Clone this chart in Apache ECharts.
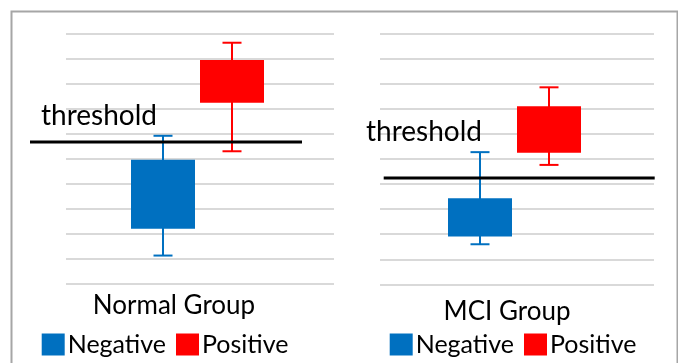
<!DOCTYPE html>
<html>
<head>
<meta charset="utf-8">
<script src="https://cdn.jsdelivr.net/npm/echarts@6/dist/echarts.min.js"></script>
<style>
html,body{margin:0;padding:0;background:#fff;}
#chart{width:678px;height:363px;}
</style>
</head>
<body>
<div id="chart"></div>
<script>
// ---- data ----
const groups = ['Normal Group', 'MCI Group'];
const legendNames = ['Negative', 'Positive'];
const negLow  = [1.12, 1.60];
const negQ1   = [2.19, 1.91];
const negQ3   = [4.96, 3.44];
const negHigh = [5.92, 5.28];
const posLow  = [5.30, 4.77];
const posQ1   = [7.24, 5.26];
const posQ3   = [8.96, 7.11];
const posHigh = [9.65, 7.87];
const thresholds = [5.67, 4.25];
const thresholdLabel = 'threshold';
const yMin = 0, yMax = 10, yStep = 1;

// ---- styling / layout ----
const FONT = 'Lato';
const BLUE = '#0070c0', RED = '#ff0000';
const boxW = 64, capW = 19, boxGap = 5, clusterShift = -2.5;
const negOffset = clusterShift - (boxGap + boxW) / 2;
const posOffset = clusterShift + (boxGap + boxW) / 2;
const gridsLayout = [
  {left: 66, right: 344, top: 34, bottom: 79.5},
  {left: 380, right: 24, top: 34, bottom: 78.7}
];
// threshold line extension relative to grid edges [leftExt, rightExt]
const thrExt = [[-36, -32], [3.7, 0.7]];
const labelPad = [[0, 52, 0, 0], [0, 20, 0, 0]];
const labelMargin = [9, 14];

function boxRenderer(color, offset) {
  return function (params, api) {
    const c = api.value(0);
    const lo = api.coord([c, api.value(1)]);
    const q1 = api.coord([c, api.value(2)]);
    const q3 = api.coord([c, api.value(3)]);
    const hi = api.coord([c, api.value(4)]);
    const x = lo[0] + offset;
    const ls = {stroke: color, lineWidth: 2};
    return {
      type: 'group',
      children: [
        {type: 'line', shape: {x1: x, y1: hi[1], x2: x, y2: lo[1]}, style: ls},
        {type: 'line', shape: {x1: x - capW / 2, y1: hi[1], x2: x + capW / 2, y2: hi[1]}, style: ls},
        {type: 'line', shape: {x1: x - capW / 2, y1: lo[1], x2: x + capW / 2, y2: lo[1]}, style: ls},
        {type: 'rect', shape: {x: x - boxW / 2, y: q3[1], width: boxW, height: q1[1] - q3[1]}, style: {fill: color}}
      ]
    };
  };
}

function thrRenderer(g) {
  return function (params, api) {
    const p = api.coord([api.value(0), api.value(1)]);
    const cs = params.coordSys;
    return {
      type: 'line',
      shape: {x1: cs.x + thrExt[g][0], y1: p[1], x2: cs.x + cs.width + thrExt[g][1], y2: p[1]},
      style: {stroke: '#000', lineWidth: 3}
    };
  };
}

const grid = [], xAxis = [], yAxis = [], series = [], legend = [];
groups.forEach(function (name, g) {
  grid.push(Object.assign({containLabel: false}, gridsLayout[g]));
  xAxis.push({
    type: 'category', gridIndex: g, data: [name],
    axisLine: {show: false}, axisTick: {show: false},
    axisLabel: {color: '#000', fontFamily: FONT, fontSize: 26, margin: labelMargin[g], padding: labelPad[g]}
  });
  yAxis.push({
    type: 'value', gridIndex: g, min: yMin, max: yMax, interval: yStep,
    axisLine: {show: false}, axisTick: {show: false}, axisLabel: {show: false},
    splitLine: {show: true, lineStyle: {color: '#d9d9d9', width: 2}}
  });
  series.push({
    name: legendNames[0], type: 'custom', xAxisIndex: g, yAxisIndex: g,
    renderItem: boxRenderer(BLUE, negOffset), itemStyle: {color: BLUE},
    encode: {x: 0, y: [1, 2, 3, 4]},
    data: [[0, negLow[g], negQ1[g], negQ3[g], negHigh[g]]], z: 2
  });
  series.push({
    name: legendNames[1], type: 'custom', xAxisIndex: g, yAxisIndex: g,
    renderItem: boxRenderer(RED, posOffset), itemStyle: {color: RED},
    encode: {x: 0, y: [1, 2, 3, 4]},
    data: [[0, posLow[g], posQ1[g], posQ3[g], posHigh[g]]], z: 2
  });
  series.push({
    name: thresholdLabel, type: 'custom', xAxisIndex: g, yAxisIndex: g,
    renderItem: thrRenderer(g), encode: {x: 0, y: 1},
    data: [[0, thresholds[g]]], z: 5, silent: true
  });
});

legend.push({
  data: legendNames, left: 41.7, top: 332, padding: 0, itemGap: 10,
  itemWidth: 23, itemHeight: 22, icon: 'rect',
  textStyle: {color: '#000', fontFamily: FONT, fontSize: 25, padding: [0, 0, 0, -2]}
});
legend.push({
  data: legendNames, left: 389.7, top: 332, padding: 0, itemGap: 10,
  itemWidth: 23, itemHeight: 22, icon: 'rect',
  textStyle: {color: '#000', fontFamily: FONT, fontSize: 25, padding: [0, 0, 0, -2]}
});

const chart = echarts.init(document.getElementById('chart'), null, {renderer: 'canvas'});
chart.setOption({
  animation: false,
  backgroundColor: '#fff',
  grid: grid, xAxis: xAxis, yAxis: yAxis, series: series, legend: legend,
  graphic: [
    {type: 'rect', left: 9, top: 9, shape: {x: 0, y: 0, width: 666, height: 420},
     style: {fill: 'none', stroke: '#a6a6a6', lineWidth: 2}, silent: true, z: 0},
    {type: 'text', left: 41, top: 102, style: {text: thresholdLabel, fill: '#000', font: '28px ' + FONT}, z: 10},
    {type: 'text', left: 366, top: 118, style: {text: thresholdLabel, fill: '#000', font: '28px ' + FONT}, z: 10}
  ]
});
</script>
</body>
</html>
